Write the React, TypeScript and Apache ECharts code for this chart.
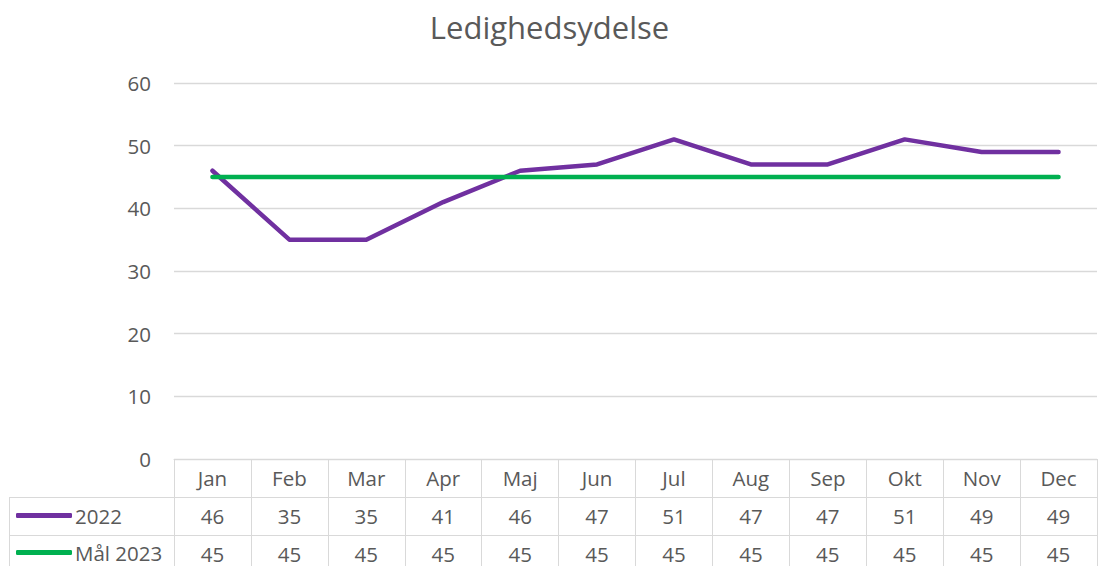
import React, { useEffect, useRef } from "react";
import * as echarts from "echarts";

const months = ["Jan", "Feb", "Mar", "Apr", "Maj", "Jun", "Jul", "Aug", "Sep", "Okt", "Nov", "Dec"];
const values2022 = [46, 35, 35, 41, 46, 47, 51, 47, 47, 51, 49, 49];
const valuesMaal2023 = [45, 45, 45, 45, 45, 45, 45, 45, 45, 45, 45, 45];
const seriesNames = ["2022", "Mål 2023"];
const yTicks = { min: 0, max: 60, interval: 10 };

const FONT = "'Open Sans', sans-serif";
const TEXT = "#595959";
const GRID = "#d9d9d9";
const PURPLE = "#7030a0";
const GREEN = "#00b050";
const ROW_H = 38;
const FS = 20.5;

export default function App() {
  const ref = useRef<HTMLDivElement>(null);
  useEffect(() => {
    if (!ref.current) return;
    const chart = echarts.init(ref.current, null, { renderer: "svg" });
    const tableAxis = (offset: number, formatter: (v: string, i: number) => string) => ({
      type: "category",
      data: months,
      position: "bottom",
      offset,
      boundaryGap: true,
      axisLine: { show: true, lineStyle: { color: GRID, width: 1 } },
      axisTick: { show: true, length: ROW_H, inside: false, lineStyle: { color: GRID, width: 1 } },
      axisLabel: { interval: 0, margin: 8, color: TEXT, fontSize: FS, fontFamily: FONT, formatter },
      splitLine: { show: false },
    });
    const legendFor = (name: string, top: number) => ({
      data: [name],
      left: 11,
      top,
      icon: "roundRect",
      itemWidth: 56,
      itemHeight: 5,
      selectedMode: false,
      textStyle: { color: TEXT, fontSize: FS, fontFamily: FONT, padding: [0, 0, 0, -2] },
    });
    chart.setOption({
      animation: false,
      backgroundColor: "#ffffff",
      title: {
        text: "Ledighedsydelse",
        left: "center",
        top: 6,
        textStyle: { color: TEXT, fontSize: 31, fontWeight: "normal", fontFamily: FONT },
      },
      grid: { left: 174, right: 2, top: 83, bottom: 107, containLabel: false },
      legend: [legendFor(seriesNames[0], 500), legendFor(seriesNames[1], 537)],
      xAxis: [
        tableAxis(0, (v: string) => v),
        tableAxis(ROW_H, (_v: string, i: number) => String(values2022[i])),
        tableAxis(ROW_H * 2, (_v: string, i: number) => String(valuesMaal2023[i])),
      ],
      yAxis: {
        type: "value",
        min: yTicks.min,
        max: yTicks.max,
        interval: yTicks.interval,
        axisLine: { show: false },
        axisTick: { show: false },
        axisLabel: { color: TEXT, fontSize: FS, fontFamily: FONT, margin: 23 },
        splitLine: { lineStyle: { color: GRID, width: 1.3 } },
      },
      graphic: [
        { type: "line", shape: { x1: 9, y1: 497.5, x2: 174, y2: 497.5 }, style: { stroke: GRID, lineWidth: 1 } },
        { type: "line", shape: { x1: 9, y1: 535.5, x2: 174, y2: 535.5 }, style: { stroke: GRID, lineWidth: 1 } },
        { type: "line", shape: { x1: 9.5, y1: 497, x2: 9.5, y2: 566 }, style: { stroke: GRID, lineWidth: 1 } },
      ],
      series: [
        {
          name: seriesNames[0],
          type: "line",
          data: values2022,
          xAxisIndex: 0,
          symbol: "none",
          color: PURPLE,
          lineStyle: { color: PURPLE, width: 4.5, cap: "round", join: "round" },
          z: 3,
        },
        {
          name: seriesNames[1],
          type: "line",
          data: valuesMaal2023,
          xAxisIndex: 0,
          symbol: "none",
          color: GREEN,
          lineStyle: { color: GREEN, width: 4.5, cap: "round", join: "round" },
          z: 4,
        },
      ],
    });
    return () => chart.dispose();
  }, []);
  return (
    <div
      ref={ref}
      style={{ position: "fixed", left: 0, top: 0, width: 1099, height: 566, background: "#fff" }}
    />
  );
}
